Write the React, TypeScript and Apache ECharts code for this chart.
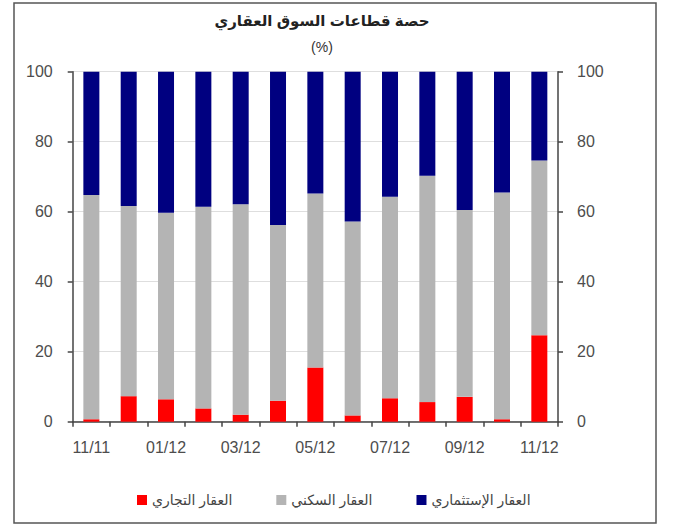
import React, { useEffect, useRef } from "react";
import * as echarts from "echarts";

const categories = ["11/11", "12/11", "01/12", "02/12", "03/12", "04/12", "05/12", "06/12", "07/12", "08/12", "09/12", "10/12", "11/12"];
const commercial = [0.7, 7.3, 6.4, 3.8, 2.0, 6.0, 15.5, 1.8, 6.7, 5.6, 7.1, 0.7, 24.7];
const residential = [64.1, 54.3, 53.3, 57.6, 60.1, 50.2, 49.7, 55.4, 57.6, 64.7, 53.4, 64.8, 49.9];
const investment = [35.2, 38.4, 40.3, 38.6, 37.9, 43.8, 34.8, 42.8, 35.7, 29.7, 39.5, 34.5, 25.4];
const seriesNames = ["العقار التجاري", "العقار السكني", "العقار الإستثماري"];
const titleText = "حصة قطاعات السوق العقاري";
const subtitleText = "(%)";

const FONT = "Arial, 'Liberation Sans', 'DejaVu Sans', sans-serif";

export default function App() {
  const ref = useRef<HTMLDivElement>(null);
  useEffect(() => {
    document.body.style.margin = "0";
    const chart = echarts.init(ref.current!, undefined, { renderer: "svg" });
    const labelStyle = { color: "#4d4d4d", fontSize: 16, fontFamily: FONT };
    const yAxisCommon = {
      type: "value" as const,
      min: 0,
      max: 100,
      interval: 20,
      axisLine: { show: true, lineStyle: { color: "#444", width: 1.5 } },
      axisTick: { show: true, length: 5, lineStyle: { color: "#444", width: 1.5 } },
    };
    chart.setOption({
      animation: false,
      textStyle: { fontFamily: FONT },
      title: [
        { text: titleText, left: 317, top: 8, textAlign: "center", textStyle: { fontSize: 15, fontWeight: "bold", color: "#222", fontFamily: FONT } },
        { text: subtitleText, left: 317, top: 35, textAlign: "center", textStyle: { fontSize: 14, fontWeight: "normal", color: "#333", fontFamily: FONT } },
      ],
      graphic: [
        { type: "rect", shape: { x: 14, y: 3, width: 642, height: 520 }, style: { fill: "none", stroke: "#555", lineWidth: 1.5 }, silent: true },
      ],
      legend: {
        bottom: 14,
        left: 132,
        itemWidth: 10,
        itemHeight: 10,
        itemGap: 44,
        icon: "rect",
        textStyle: { fontSize: 14, color: "#444", fontFamily: FONT },
        data: seriesNames,
      },
      grid: { left: 72.7, right: 115, top: 71.7, bottom: 104.3 },
      xAxis: {
        type: "category",
        data: categories,
        axisLine: { lineStyle: { color: "#444", width: 1.5 } },
        axisTick: { show: true, interval: 0, length: 5, lineStyle: { color: "#444", width: 1.5 } },
        axisLabel: { interval: 1, margin: 18, ...labelStyle },
      },
      yAxis: [
        {
          ...yAxisCommon,
          position: "left",
          axisLabel: { margin: 20, ...labelStyle },
          splitLine: { show: true, lineStyle: { color: "#dedede", width: 1 } },
        },
        {
          ...yAxisCommon,
          position: "right",
          axisLabel: { margin: 19, ...labelStyle },
          splitLine: { show: false },
        },
      ],
      series: [
        { name: seriesNames[0], type: "bar", stack: "s", barWidth: 16, data: commercial, itemStyle: { color: "#ff0000" } },
        { name: seriesNames[1], type: "bar", stack: "s", barWidth: 16, data: residential, itemStyle: { color: "#b4b4b4" } },
        { name: seriesNames[2], type: "bar", stack: "s", barWidth: 16, data: investment, itemStyle: { color: "#000080" } },
      ],
    });
    return () => chart.dispose();
  }, []);
  return <div ref={ref} style={{ width: 673, height: 526 }} />;
}
